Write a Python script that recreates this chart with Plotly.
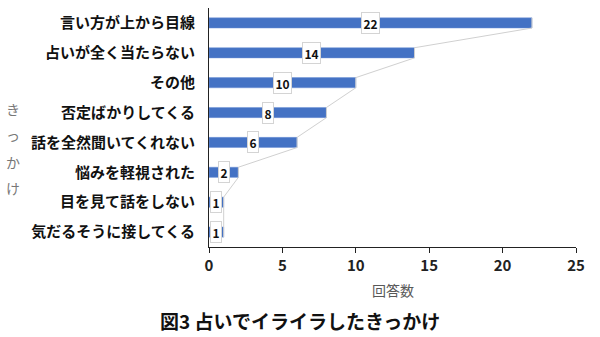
import plotly.graph_objects as go

# Survey answers: what triggered irritation during a fortune-telling session
categories = [
    "言い方が上から目線",
    "占いが全く当たらない",
    "その他",
    "否定ばかりしてくる",
    "話を全然聞いてくれない",
    "悩みを軽視された",
    "目を見て話をしない",
    "気だるそうに接してくる",
]
counts = [22, 14, 10, 8, 6, 2, 1, 1]
x_ticks = [0, 5, 10, 15, 20, 25]
y_title = ["き", "っ", "か", "け"]

FONT = "Noto Sans CJK JP"
BAR_COLOR = "#4472C4"
BAR_W = 0.34
rows = list(range(len(categories)))

# Plot area in pixels (used to place paper-referenced text)
PL, PR, PT, PB = 209, 576, 8, 247


def px_x(px):
    return (px - PL) / (PR - PL)


def px_y(py):
    return (PB - py) / (PB - PT)


# Series lines: from the bottom edge of each bar end to the top edge of the next
sx, sy = [], []
for i, v in enumerate(counts):
    sx += [v, v]
    sy += [i - BAR_W / 2, i + BAR_W / 2]

fig = go.Figure()
fig.add_trace(go.Scatter(
    x=sx, y=sy, mode="lines",
    line=dict(color="#d0d0d0", width=1),
    hoverinfo="skip", showlegend=False,
))
fig.add_trace(go.Bar(
    x=counts, y=rows, orientation="h", width=BAR_W,
    marker=dict(color=BAR_COLOR, line=dict(color="#6f93d6", width=0.5)),
    showlegend=False,
))

# Value callouts centred on each bar
for i, v in enumerate(counts):
    fig.add_annotation(
        x=v / 2, y=i, xref="x", yref="y", text=f"<b>{v}</b>",
        showarrow=False, font=dict(family=FONT, size=12, color="#111"),
        bgcolor="white", bordercolor="#d4d4d4", borderwidth=1, borderpad=1.5,
    )

# Vertical axis title, one character per line
for ch, py in zip(y_title, [109, 135, 162, 188]):
    fig.add_annotation(
        x=px_x(13), xref="paper", xanchor="center", y=px_y(py), yref="paper",
        yanchor="middle", text=ch, showarrow=False,
        font=dict(family=FONT, size=14, color="#777"),
    )

fig.add_annotation(
    x=px_x(393), xref="paper", xanchor="center", y=px_y(290), yref="paper",
    yanchor="middle", text="回答数", showarrow=False,
    font=dict(family=FONT, size=14, color="#595959"),
)
fig.add_annotation(
    x=px_x(300), xref="paper", xanchor="center", y=px_y(320), yref="paper",
    yanchor="middle", text="<b>図3 占いでイライラしたきっかけ</b>", showarrow=False,
    font=dict(family=FONT, size=19, color="#111"),
)

fig.update_layout(
    width=600, height=337,
    margin=dict(l=PL, r=600 - PR, t=PT, b=337 - PB),
    paper_bgcolor="white", plot_bgcolor="white",
    font=dict(family=FONT),
    xaxis=dict(
        range=[0, 25], tickvals=x_ticks, showgrid=False, zeroline=False,
        showline=True, linecolor="#222", linewidth=1,
        ticks="outside", ticklen=5, tickcolor="#222",
        tickfont=dict(family=FONT, size=15, color="#222", weight="bold"),
    ),
    yaxis=dict(
        range=[len(categories) - 0.5, -0.5], tickvals=rows, ticktext=categories,
        showgrid=False, zeroline=False, showline=True, linecolor="#222", linewidth=1,
        ticks="", ticklabelstandoff=10,
        tickfont=dict(family=FONT, size=15, color="#111", weight="bold"),
    ),
)

fig.write_html("out.html")
